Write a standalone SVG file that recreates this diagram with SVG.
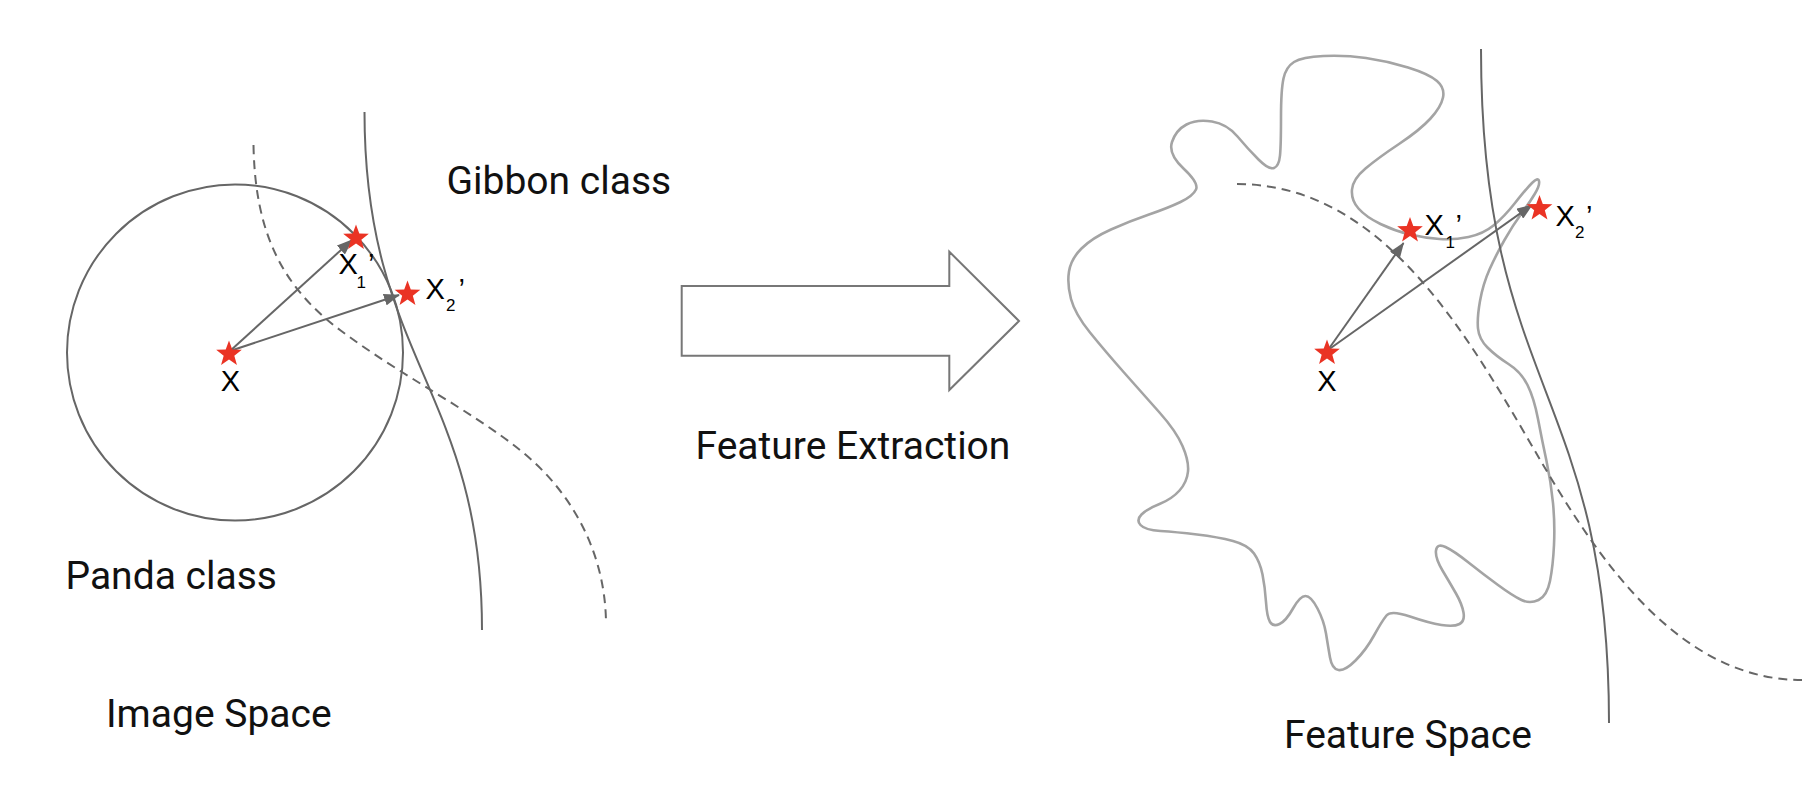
<svg xmlns="http://www.w3.org/2000/svg" width="1820" height="798" viewBox="0 0 1820 798">
<style>
.ln{fill:none;stroke:#666;stroke-width:2}
.dash{fill:none;stroke:#666;stroke-width:2;stroke-dasharray:9 6}
.blob{fill:none;stroke:#a4a4a4;stroke-width:2.6;stroke-linejoin:round}
.big{font-family:Roboto,"Liberation Sans",sans-serif;font-size:39px;fill:#111}
.lab{font-family:"Liberation Sans",Arial,sans-serif;font-size:29px;fill:#000}
.sub{font-family:"Liberation Sans",Arial,sans-serif;font-size:17px;fill:#000}
.star{fill:#ea3324}
.arr{fill:none;stroke:#666;stroke-width:2;marker-end:url(#ah)}
</style>
<defs>
<marker id="ah" markerUnits="userSpaceOnUse" markerWidth="16" markerHeight="12" refX="15" refY="6" orient="auto">
<path d="M0,0 L16,6 L0,12 Z" fill="#666"/>
</marker>
<path id="st" d="M0,-13.5 L3.292,-4.531 L12.839,-4.172 L5.326,1.73 L7.935,10.922 L0,5.6 L-7.935,10.922 L-5.326,1.73 L-12.839,-4.172 L-3.292,-4.531 Z"/>
</defs>
<rect width="1820" height="798" fill="#fff"/>

<g id="image-space">
<circle id="panda-circle" cx="235" cy="352.5" r="168" class="ln"/>
<path id="left-boundary" class="ln" d="M364.5,112 C364.5,360 482,390 482,630"/>
<path id="left-dashed" class="dash" d="M253.5,145 C255,230 280,285 340,330 C400,375 470,410 520,450 C570,490 605,550 606,622"/>
</g>

<g id="feature-space">
<path id="blob" class="blob" d="M1196,189.5 Q1199,183 1183.5,168.5 Q1168,154 1172,142 Q1176,130 1186.5,124.5 Q1197,119 1212,121.5 Q1227,124 1237.5,136.5 Q1248,149 1258.5,159.5 Q1269,170 1274,168 Q1279,166 1280,155.5 Q1281,145 1281,117.5 Q1281,90 1283.5,78.5 Q1286,67 1294,62 Q1302,57 1323.5,56 Q1345,55 1366,58 Q1387,61 1408,67.5 Q1429,74 1437,81 Q1445,88 1443,97.5 Q1441,107 1430.5,118.5 Q1420,130 1399,144 Q1378,158 1365.5,168.5 Q1353,179 1352,189.5 Q1351,200 1358.5,208.5 Q1366,217 1380.5,224 Q1395,231 1410,234.5 Q1425,238 1439.5,239 Q1454,240 1468.5,237 Q1483,234 1493.5,225.5 Q1504,217 1515,203 Q1526,189 1532,183 Q1538,177 1539,181 Q1540,185 1535,193.5 Q1530,202 1521.5,213.5 Q1513,225 1504.5,240 Q1496,255 1489.5,269.5 Q1483,284 1480,301 Q1477,318 1478,328.5 Q1479,339 1487.5,347.5 Q1496,356 1508.5,364 Q1521,372 1527.5,385 Q1534,398 1538,419 Q1542,440 1546.5,461 Q1551,482 1553,503 Q1555,524 1554,545 Q1553,566 1550,581 Q1547,596 1538.5,600 Q1530,604 1521.5,600 Q1513,596 1498,585 Q1483,574 1468.5,562.5 Q1454,551 1445.5,547 Q1437,543 1436,550.5 Q1435,558 1442.5,570.5 Q1450,583 1456,593.5 Q1462,604 1463.5,612.5 Q1465,621 1459.5,624 Q1454,627 1441.5,625 Q1429,623 1410,616.5 Q1391,610 1386.5,615.5 Q1382,621 1374,635.5 Q1366,650 1355.5,660.5 Q1345,671 1338.5,670 Q1332,669 1330,657.5 Q1328,646 1326,633.5 Q1324,621 1317.5,608.5 Q1311,596 1305.5,596 Q1300,596 1293,608.5 Q1286,621 1279.5,624 Q1273,627 1270,622 Q1267,617 1266,602 Q1265,587 1262.5,574.5 Q1260,562 1254,553.5 Q1248,545 1233,541 Q1218,537 1197,534.5 Q1176,532 1160.5,531 Q1145,530 1140.5,525 Q1136,520 1141.5,514.5 Q1147,509 1159.5,504 Q1172,499 1179.5,490.5 Q1187,482 1188,471.5 Q1189,461 1182.5,446 Q1176,431 1159.5,412.5 Q1143,394 1124,372.5 Q1105,351 1090,332.5 Q1075,314 1071,299 Q1067,284 1069,271.5 Q1071,259 1081.5,248.5 Q1092,238 1111,229.5 Q1130,221 1149,214.5 Q1168,208 1180.5,202 Q1193,196 1196,189.5 Z"/>
<path id="right-boundary" class="ln" d="M1481,49 C1481,392 1609,389 1609,723"/>
<path id="right-dashed" class="dash" d="M1237,184 C1387,184 1472,343.5 1542,463 C1602,565.4 1682,680 1802,680"/>
</g>

<g id="connectors">
<line class="arr" x1="230" y1="351" x2="352" y2="240"/>
<line class="arr" x1="230" y1="351" x2="399" y2="295"/>
<line class="arr" x1="1328" y1="350" x2="1403.5" y2="243"/>
<line class="arr" x1="1328" y1="350" x2="1532" y2="205"/>
</g>

<g id="block-arrow">
<polygon points="681.7,286 949.3,286 949.3,251.7 1019,321 949.3,390 949.3,355.7 681.7,355.7" fill="#fff" stroke="#777" stroke-width="2"/>
</g>

<g id="node-x-left"><use href="#st" class="star" x="229" y="354"/><text class="lab" x="230.3" y="391" text-anchor="middle">X</text></g>
<g id="node-x1-left"><use href="#st" class="star" x="356" y="238"/><text class="lab" x="338.5" y="274">X</text><text class="sub" x="356.5" y="287.5">1</text><text class="lab" x="368" y="274">’</text></g>
<g id="node-x2-left"><use href="#st" class="star" x="407.5" y="294"/><text class="lab" x="425.5" y="299.3">X</text><text class="sub" x="446" y="311">2</text><text class="lab" x="458.5" y="299.3">’</text></g>

<g id="node-x-right"><use href="#st" class="star" x="1327" y="353"/><text class="lab" x="1327" y="391" text-anchor="middle">X</text></g>
<g id="node-x1-right"><use href="#st" class="star" x="1410" y="230.5"/><text class="lab" x="1424.5" y="235">X</text><text class="sub" x="1445.5" y="248">1</text><text class="lab" x="1455.5" y="235">’</text></g>
<g id="node-x2-right"><use href="#st" class="star" x="1539.5" y="208.5"/><text class="lab" x="1555.5" y="226">X</text><text class="sub" x="1575" y="238">2</text><text class="lab" x="1586" y="226">’</text></g>

<g id="labels">
<text class="big" x="446.5" y="193.5">Gibbon class</text>
<text class="big" x="65.5" y="588.5">Panda class</text>
<text class="big" x="106" y="726.5">Image Space</text>
<text class="big" x="695.5" y="458.5">Feature Extraction</text>
<text class="big" x="1284" y="747.5">Feature Space</text>
</g>
</svg>
